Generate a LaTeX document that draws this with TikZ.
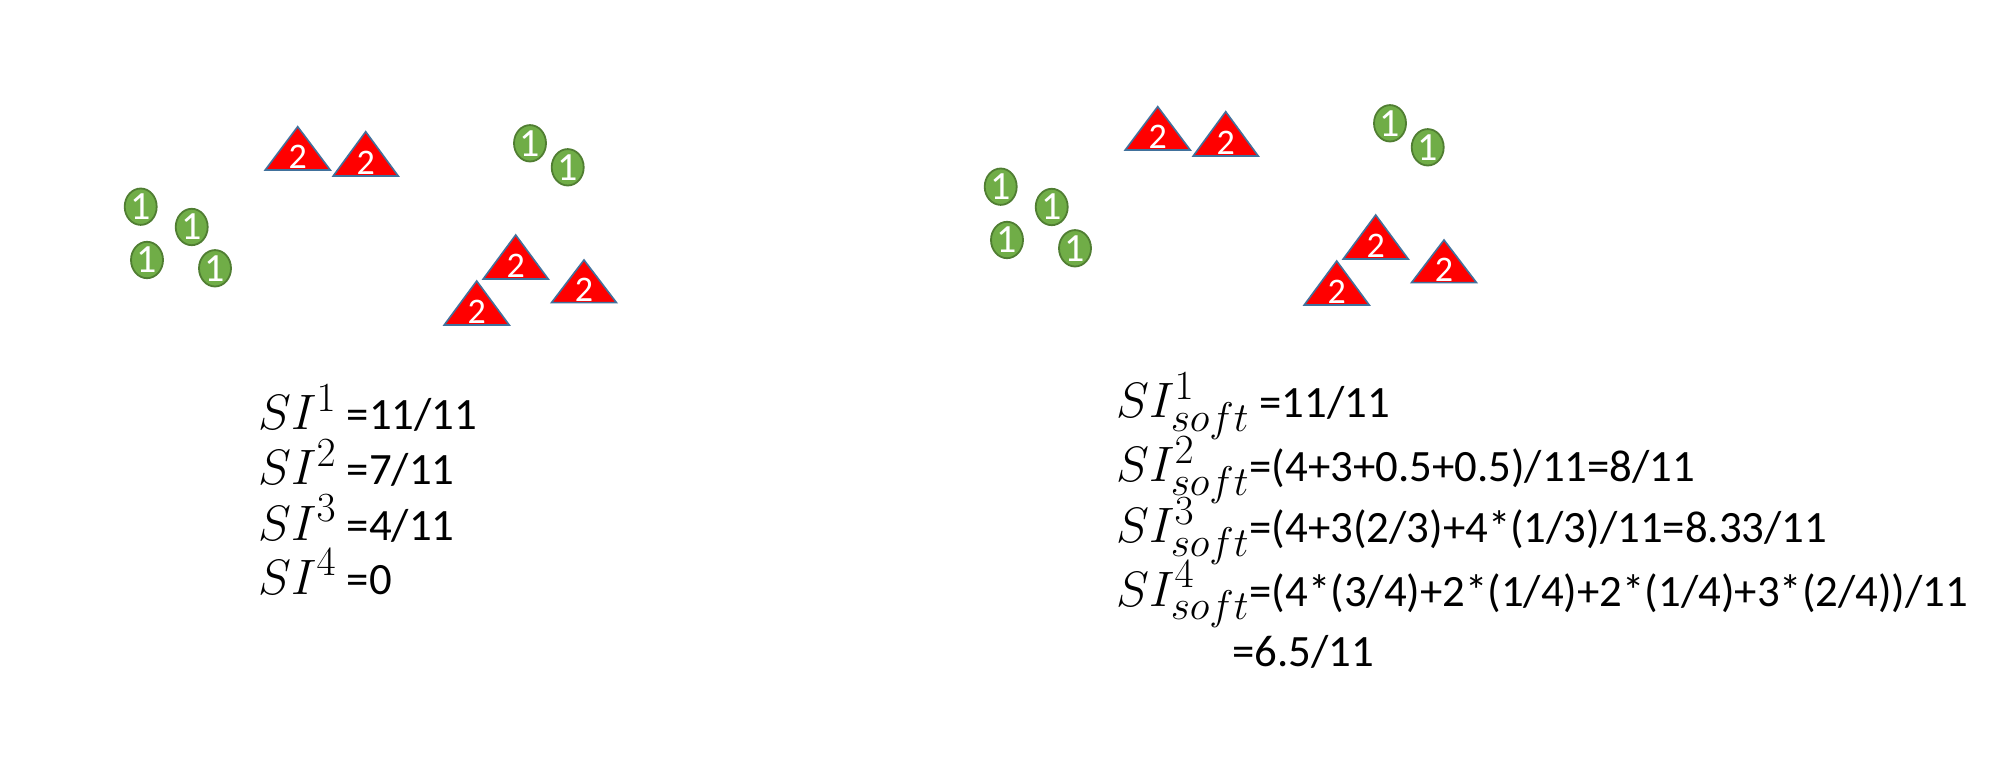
\documentclass[tikz,border=0pt]{standalone}
\usepackage{fontspec}
\setmainfont{Carlito}
\usetikzlibrary{shapes.geometric}
\definecolor{cgreen}{HTML}{70AD47}
\definecolor{cgreenline}{HTML}{507E32}
\definecolor{tblue}{HTML}{41719C}
\tikzset{
  dot/.style={ellipse, fill=cgreen, draw=cgreenline, line width=0.9pt,
    minimum width=16pt, minimum height=18pt, inner sep=0pt, text=white,
    font=\fontsize{20}{20}\selectfont},
  tri/.style={fill=red, draw=tblue, line width=0.8pt},
  twolab/.style={text=white, font=\fontsize{18}{18}\selectfont, anchor=base, inner sep=0pt},
  eqline/.style={anchor=base west, inner sep=0pt, font=\fontsize{22.4}{26}\selectfont},
}
\newcommand\simath[1]{{\fontsize{24.88}{26}\selectfont$#1$}}
\newcommand\mytri[4]{%
  \draw[tri] (#2,#3) -- (#2+32.5,#4) -- (#2-32.5,#4) -- cycle;
  \node[twolab] (#1) at (#2,#4-1) {2};}
\newcommand\cluster[1]{%
  \node[dot] (#1a) at (140.7,206.7) {1};
  \node[dot] (#1b) at (191.7,227) {1};
  \node[dot] (#1c) at (147,260) {1};
  \node[dot] (#1d) at (215,268.3) {1};
  \node[dot] (#1e) at (530,143.3) {1};
  \node[dot] (#1f) at (567.7,167.3) {1};
  \mytri{#1t1}{297.7}{126.7}{170}
  \mytri{#1t2}{365.7}{131.7}{176}
  \mytri{#1t3}{515.7}{235}{279}
  \mytri{#1t4}{476.7}{281}{325}
  \mytri{#1t5}{584}{260}{302.7}}
\begin{document}
\begin{tikzpicture}[x=0.5pt, y=-0.5pt]
\useasboundingbox (0,0) rectangle (2012,769);
\fill[white] (0,0) rectangle (2012,769);

% left cluster
\cluster{l}
% right cluster (same arrangement, shifted)
\begin{scope}[shift={(860,-20)}]
\cluster{r}
\end{scope}

% left formulas
\node[eqline] (l1) at (258,430) {\simath{SI^1} =11/11};
\node[eqline] (l2) at (258,485) {\simath{SI^2} =7/11};
\node[eqline] (l3) at (258,540) {\simath{SI^3} =4/11};
\node[eqline] (l4) at (258,594) {\simath{SI^4} =0};

% right formulas
\node[eqline] (r1) at (1116,418) {\simath{SI^1_{soft}} =11/11};
\node[eqline] (r2) at (1116,482) {\simath{SI^2_{soft}}=(4+3+0.5+0.5)/11=8/11};
\node[eqline] (r3) at (1116,543) {\simath{SI^3_{soft}}=(4+3(2/3)+4*(1/3)/11=8.33/11};
\node[eqline] (r4) at (1116,606) {\simath{SI^4_{soft}}=(4*(3/4)+2*(1/4)+2*(1/4)+3*(2/4))/11};
\node[eqline] (r5) at (1232,666) {=6.5/11};
\end{tikzpicture}
\end{document}
